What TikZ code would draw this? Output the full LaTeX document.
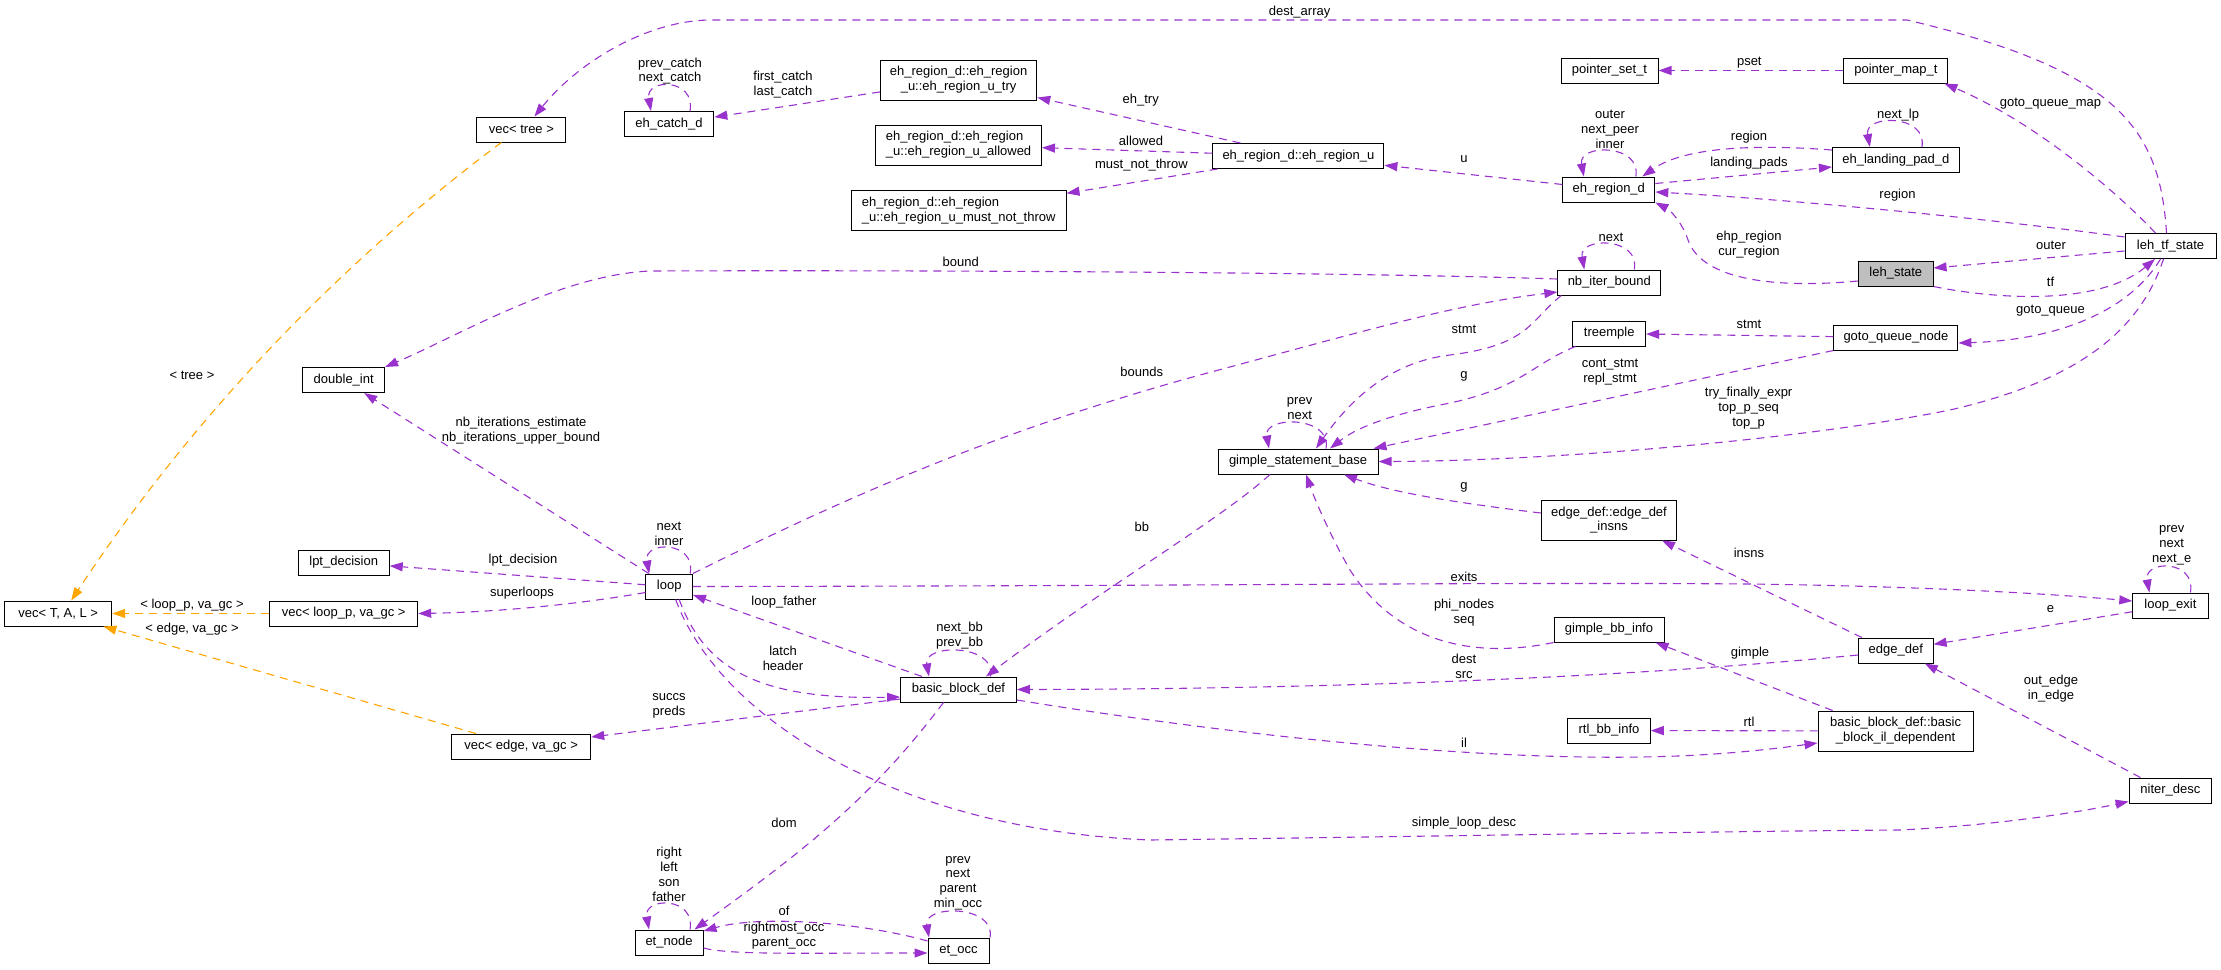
\documentclass[tikz,border=0pt]{standalone}
\usepackage{fontspec}
\setmainfont{Liberation Sans}
\usetikzlibrary{arrows.meta}
\definecolor{edgepurple}{HTML}{9A32CD}
\definecolor{tmplorange}{HTML}{FFA500}
\definecolor{lehgray}{HTML}{BFBFBF}

\begin{document}
\begin{tikzpicture}[x=1pt,y=-1pt]
			\useasboundingbox (0,0) rectangle (2221,969);
			
			\tikzstyle{mybox}=[rectangle,
			draw=black,
			fill=white,
			line width=1pt,
			minimum height=25pt,
			inner xsep=4pt,
			inner ysep=2pt,
			align=center,
			font=\fontsize{13}{14.8}\selectfont
			]
			\tikzstyle{mylabel}=[align=center, inner sep=1pt, font=\fontsize{13}{14.8}\selectfont]
			\tikzstyle{myarrow}=[-{Triangle[length=13pt,width=9pt]}, draw=edgepurple, line width=1.1pt, dash pattern=on 8pt off 6pt]
			\tikzstyle{myorange}=[myarrow, draw=tmplorange]
			
			\coordinate (pvectree) at (521.4,129.5);
			\coordinate (pdoubleint) at (343.7,380);
			\coordinate (pvectal) at (58.2,613.5);
			\coordinate (plptdec) at (343.7,562.5);
			\coordinate (pvecloop) at (343.7,613.5);
			\coordinate (pvecedge) at (521.2,746.5);
			
			\coordinate (pehcatch) at (669,124);
			\coordinate (ploop) at (669.2,586.5);
			\coordinate (petnode) at (669,942.5);
			
			\coordinate (pehtry) at (958.6,80);
			\coordinate (pehallowed) at (958.6,145);
			\coordinate (pehmnt) at (958.7,210.5);
			\coordinate (pbbdef) at (958.5,689.5);
			\coordinate (petocc) at (958.5,950.5);
			
			\coordinate (pehregu) at (1298.4,156);
			\coordinate (pgimplesb) at (1298,461.5);
			
			\coordinate (ppointerset) at (1609.5,70.5);
			\coordinate (pehregion) at (1608.8,189.5);
			\coordinate (pnbiter) at (1609.3,282.5);
			\coordinate (ptreemple) at (1609.2,333.5);
			\coordinate (pedgeinsns) at (1609,520);
			\coordinate (pgimplebb) at (1609,629.5);
			\coordinate (prtlbb) at (1609,730.5);
			
			\coordinate (ppointermap) at (1895.9,70.5);
			\coordinate (plandpad) at (1895.9,160);
			\coordinate (plehstate) at (1895.8,273.5);
			\coordinate (pgotoqn) at (1895.9,337.5);
			\coordinate (pedgedef) at (1895.8,650.5);
			\coordinate (pbbil) at (1895.6,731);
			
			\coordinate (plehtf) at (2170.5,246);
			\coordinate (ploopexit) at (2170.4,605.5);
			\coordinate (pniterdesc) at (2170.4,790.5);
			
			
			\node[mybox, minimum width=89pt] (vectree) at (pvectree) {vec< tree >};
			\node[mybox, minimum width=81.7pt] (doubleint) at (pdoubleint) {double\_int};
			\node[mybox, minimum width=107pt] (vectal) at (pvectal) {vec< T, A, L >};
			\node[mybox, minimum width=91pt] (lptdec) at (plptdec) {lpt\_decision};
			\node[mybox, minimum width=148pt] (vecloop) at (pvecloop) {vec< loop\_p, va\_gc >};
			\node[mybox, minimum width=139pt] (vecedge) at (pvecedge) {vec< edge, va\_gc >};
			
			\node[mybox, minimum width=89.6pt] (ehcatch) at (pehcatch) {eh\_catch\_d};
			\node[mybox, minimum width=46.5pt] (loop) at (ploop) {loop};
			\node[mybox, minimum width=68pt] (etnode) at (petnode) {et\_node};
			
			\node[mybox, minimum width=156.4pt, minimum height=40pt] (ehtry) at (pehtry) {eh\_region\_d::eh\_region\\\_u::eh\_region\_u\_try};
			\node[mybox, minimum width=165.7pt, minimum height=40pt, align=left] (ehallowed) at (pehallowed) {eh\_region\_d::eh\_region\\\_u::eh\_region\_u\_allowed};
			\node[mybox, minimum width=214.6pt, minimum height=40pt, align=left] (ehmnt) at (pehmnt) {eh\_region\_d::eh\_region\\\_u::eh\_region\_u\_must\_not\_throw};
			\node[mybox, minimum width=115.7pt] (bbdef) at (pbbdef) {basic\_block\_def};
			\node[mybox, minimum width=61pt] (etocc) at (petocc) {et\_occ};
			
			\node[mybox, minimum width=171pt] (ehregu) at (pehregu) {eh\_region\_d::eh\_region\_u};
			\node[mybox, minimum width=160pt] (gimplesb) at (pgimplesb) {gimple\_statement\_base};
			
			\node[mybox, minimum width=97pt] (pointerset) at (ppointerset) {pointer\_set\_t};
			\node[mybox, minimum width=92pt] (ehregion) at (pehregion) {eh\_region\_d};
			\node[mybox, minimum width=103pt] (nbiter) at (pnbiter) {nb\_iter\_bound};
			\node[mybox, minimum width=72.7pt] (treemple) at (ptreemple) {treemple};
			\node[mybox, minimum width=135.6pt, minimum height=40pt] (edgeinsns) at (pedgeinsns) {edge\_def::edge\_def\\\_insns};
			\node[mybox, minimum width=110pt] (gimplebb) at (pgimplebb) {gimple\_bb\_info};
			\node[mybox, minimum width=82.5pt] (rtlbb) at (prtlbb) {rtl\_bb\_info};
			
			\node[mybox, minimum width=104pt] (pointermap) at (ppointermap) {pointer\_map\_t};
			\node[mybox, minimum width=127pt] (landpad) at (plandpad) {eh\_landing\_pad\_d};
			\node[mybox, minimum width=74.5pt, fill=lehgray] (lehstate) at (plehstate) {leh\_state};
			\node[mybox, minimum width=124pt] (gotoqn) at (pgotoqn) {goto\_queue\_node};
			\node[mybox, minimum width=74.5pt] (edgedef) at (pedgedef) {edge\_def};
			\node[mybox, minimum width=155pt, minimum height=40pt] (bbil) at (pbbil) {basic\_block\_def::basic\\\_block\_il\_dependent};
			
			\node[mybox, minimum width=91pt] (lehtf) at (plehtf) {leh\_tf\_state};
			\node[mybox, minimum width=75.2pt] (loopexit) at (ploopexit) {loop\_exit};
			\node[mybox, minimum width=82.6pt] (niterdesc) at (pniterdesc) {niter\_desc};
			
			% template instances
			\draw[myorange] ([xshift=-20pt]vectree.south) .. controls (370,240) and (210,390) .. ([xshift=13pt]vectal.north) node[mylabel] (ltree) at (192,375) {< tree >};
			\draw[myorange] (vecloop) -- (vectal) node[mylabel] (lvecloop) at (192,605) {< loop\_p, va\_gc >};
			\draw[myorange] (vecedge) -- (vectal) node[mylabel] (lvecedge) at (192,629) {< edge, va\_gc >};
			
			% leh_tf_state
			\draw[myarrow] ([xshift=-4pt]lehtf.north) .. controls (2160,130) and (2120,70) .. (1907,20) -- (711,20) .. controls (650,20) and (580,60) .. ([xshift=13pt]vectree.north) node[mylabel] (ldest) at (1299.6,12) {dest\_array};
			\draw[myarrow] ([xshift=-15pt]lehtf.north) .. controls (2110,185) and (2030,120) .. ([xshift=-4pt]pointermap.south east) node[mylabel] (lgqmap) at (2050.5,104) {goto\_queue\_map};
			\draw[myarrow] ([yshift=9pt]lehtf.west) .. controls (2000,220) and (1800,200) .. ([yshift=-2.5pt]ehregion.east) node[mylabel] (lregion) at (1897.5,195) {region};
			\draw[myarrow] ([yshift=-5pt]lehtf.west) -- ([yshift=5.5pt]lehstate.east) node[mylabel] (louter) at (2051,245) {outer};
			\draw[myarrow] (lehstate.south east) .. controls (2000,300) and (2100,305) .. ([xshift=-15.5pt]lehtf.south) node[mylabel] (ltf) at (2050.5,282) {tf};
			\draw[myarrow] ([xshift=-10pt]lehtf.south) .. controls (2130,310) and (2060,340) .. ([yshift=-5.5pt]gotoqn.east) node[mylabel] (lgq) at (2050.5,311) {goto\_queue};
			\draw[myarrow] ([xshift=-7pt]lehtf.south) .. controls (2140,330) and (2080,380) .. (1950,410) .. controls (1800,440) and (1550,461) .. (gimplesb.east) node[mylabel] (ltry) at (1748.6,408) {try\_finally\_expr\\top\_p\_seq\\top\_p};
			
			% exception regions
			\draw[myarrow] ([xshift=21pt]ehcatch.north) .. controls +(6,-33) and +(-6,-33) .. ([xshift=-18pt]ehcatch.north) node[mylabel] (lcatchself) at (670,71) {prev\_catch\\next\_catch};
			\draw[myarrow] (ehtry) -- (ehcatch) node[mylabel] (lcatch) at (783,84.5) {first\_catch\\last\_catch};
			\draw[myarrow] (ehregu) -- (ehtry) node[mylabel] (ltry2) at (1140.7,100) {eh\_try};
			\draw[myarrow] (ehregu) -- (ehallowed) node[mylabel] (lallowed) at (1141,141) {allowed};
			\draw[myarrow] (ehregu) -- (ehmnt) node[mylabel] (lmnt) at (1141.4,165) {must\_not\_throw};
			\draw[myarrow] (ehregion) -- (ehregu) node[mylabel] (lu) at (1464,159) {u};
			\draw[myarrow] ([xshift=27pt]ehregion.north) .. controls +(6,-33) and +(-6,-33) .. ([xshift=-25pt]ehregion.north) node[mylabel] (lregself) at (1610,129.5) {outer\\next\_peer\\inner};
			\draw[myarrow] (pointermap) -- (pointerset) node[mylabel] (lpset) at (1749.3,63) {pset};
			\draw[myarrow] ([xshift=26pt]landpad.north) .. controls +(6,-33) and +(-6,-33) .. ([xshift=-26pt]landpad.north) node[mylabel] (llpself) at (1898,115) {next\_lp};
			\draw[myarrow] ([yshift=10pt]landpad.west) .. controls (1740,143) and (1680,150) .. ([xshift=-13pt]ehregion.north east) node[mylabel] (lregion2) at (1749,137) {region};
			\draw[myarrow] ([yshift=6pt]ehregion.east) -- ([yshift=-7pt]landpad.west) node[mylabel] (lpads) at (1749,163) {landing\_pads};
			\draw[myarrow] ([yshift=-7.5pt]lehstate.west) .. controls (1760,290) and (1700,275) .. (1688,240) .. controls (1682,222) and (1670,210) .. (ehregion.south east) node[mylabel] (lehp) at (1749,244.5) {ehp\_region\\cur\_region};
			
			% statements
			\draw[myarrow] (gotoqn) -- (treemple) node[mylabel] (lstmt) at (1749,324) {stmt};
			\draw[myarrow] (gotoqn.south west) -- ([xshift=-5pt]gimplesb.north east) node[mylabel] (lcont) at (1610,372.5) {cont\_stmt\\repl\_stmt};
			\draw[myarrow] ([xshift=3pt]treemple.south west) .. controls (1530,365) and (1520,390) .. (1440,405) .. controls (1400,413) and (1360,425) .. ([xshift=32pt]gimplesb.north) node[mylabel] (lg) at (1464,376) {g};
			\draw[myarrow] ([xshift=4pt]nbiter.south west) .. controls (1530,320) and (1530,345) .. (1450,355) .. controls (1390,362) and (1350,400) .. ([xshift=18pt]gimplesb.north) node[mylabel] (lstmt2) at (1464,329) {stmt};
			\draw[myarrow] ([xshift=25pt]nbiter.north) .. controls +(6,-33) and +(-6,-33) .. ([xshift=-25pt]nbiter.north) node[mylabel] (lnbself) at (1611,237) {next};
			\draw[myarrow] ([xshift=28pt]gimplesb.north) .. controls +(6,-33) and +(-6,-33) .. ([xshift=-29pt]gimplesb.north) node[mylabel] (lgsself) at (1299.6,408.5) {prev\\next};
			\draw[myarrow] ([yshift=3.5pt]nbiter.west) .. controls (1350,272) and (900,270) .. (650,271) .. controls (560,275) and (460,335) .. (doubleint.north east) node[mylabel] (lbound) at (960.7,262) {bound};
			\draw[myarrow] ([yshift=7pt]edgeinsns.west) .. controls (1450,502) and (1390,492) .. ([xshift=46pt]gimplesb.south) node[mylabel] (lg2) at (1464,487) {g};
			\draw[myarrow] (gimplebb.south west) .. controls (1470,660) and (1395,640) .. (1350,570) .. controls (1330,535) and (1315,500) .. ([xshift=8pt]gimplesb.south) node[mylabel] (lphi) at (1464,612.5) {phi\_nodes\\seq};
			\draw[myarrow] ([xshift=-28pt]gimplesb.south) .. controls (1220,520) and (1100,590) .. ([xshift=27.5pt]bbdef.north) node[mylabel] (lbb) at (1141.8,527) {bb};
			
			% loops
			\draw[myarrow] (loop) -- (doubleint) node[mylabel] (lnbit) at (521,431) {nb\_iterations\_estimate\\nb\_iterations\_upper\_bound};
			\draw[myarrow] (loop.north east) .. controls (850,495) and (1000,430) .. (1200,375) .. controls (1350,335) and (1450,305) .. ([yshift=-9.5pt]nbiter.west) node[mylabel] (lbounds) at (1141.8,372) {bounds};
			\draw[myarrow] ([xshift=21pt]loop.north) .. controls +(6,-33) and +(-6,-33) .. ([xshift=-20pt]loop.north) node[mylabel] (lloopself) at (669,534) {next\\inner};
			\draw[myarrow] (loop) -- (lptdec) node[mylabel] (llpt) at (523,560) {lpt\_decision};
			\draw[myarrow] ([yshift=-6pt]loop.west) .. controls (580,604) and (500,612) .. (vecloop.east) node[mylabel] (lsuper) at (522,593) {superloops};
			\draw[myarrow] (loop.east) .. controls (1200,586) and (1500,582) .. (1750,584) .. controls (1900,586) and (2030,592) .. ([yshift=4.5pt]loopexit.west) node[mylabel] (lexits) at (1464,577) {exits};
			\draw[myarrow] (bbdef) -- (loop) node[mylabel] (lfather) at (784,602) {loop\_father};
			\draw[myarrow] ([xshift=10pt]loop.south) .. controls (705,670) and (760,700) .. ([yshift=-7.5pt]bbdef.west) node[mylabel] (llatch) at (783,658.5) {latch\\header};
			\draw[myarrow] ([xshift=6.5pt]loop.south) .. controls (720,720) and (900,830) .. (1150,840) .. controls (1450,836) and (1750,831) .. (1900,830) .. controls (2000,825) and (2080,812) .. ([yshift=-11pt]niterdesc.west) node[mylabel] (lsimple) at (1464,823) {simple\_loop\_desc};
			
			% basic blocks and edges
			\draw[myarrow] ([xshift=32pt]bbdef.north) .. controls +(6,-33) and +(-6,-33) .. ([xshift=-29.5pt]bbdef.north) node[mylabel] (lbbself) at (959.6,636) {next\_bb\\prev\_bb};
			\draw[myarrow] ([yshift=-9.5pt]bbdef.west) -- ([yshift=9.5pt]vecedge.east) node[mylabel] (lsuccs) at (669,705.5) {succs\\preds};
			\draw[myarrow] ([yshift=-4.5pt]edgedef.west) .. controls (1600,680) and (1300,689) .. (bbdef.east) node[mylabel] (ldest2) at (1464,666) {dest\\src};
			\draw[myarrow] ([yshift=-10.5pt]bbdef.east) .. controls (1200,730) and (1450,760) .. (1640,757) .. controls (1720,756) and (1780,748) .. ([yshift=-12pt]bbil.west) node[mylabel] (lil) at (1464,743) {il};
			\draw[myarrow] ([xshift=-63pt]bbil.north) -- ([xshift=-9pt]gimplebb.south east) node[mylabel] (lgimple) at (1750,653) {gimple};
			\draw[myarrow] (bbil) -- (rtlbb) node[mylabel] (lrtl) at (1749,722) {rtl};
			\draw[myarrow] ([xshift=-34pt]edgedef.north) -- ([xshift=53pt]edgeinsns.south) node[mylabel] (linsns) at (1749,553) {insns};
			\draw[myarrow] (loopexit) -- (edgedef) node[mylabel] (le) at (2050.5,609) {e};
			\draw[myarrow] ([xshift=-30pt]niterdesc.north) -- ([xshift=29pt]edgedef.south) node[mylabel] (lout) at (2051,688.5) {out\_edge\\in\_edge};
			\draw[myarrow] ([xshift=20pt]loopexit.north) .. controls +(6,-33) and +(-6,-33) .. ([xshift=-21pt]loopexit.north) node[mylabel] (lexself) at (2171.7,545) {prev\\next\\next\_e};
			
			% dominance tree
			\draw[myarrow] ([xshift=-15pt]bbdef.south) .. controls (870,800) and (801,853) .. ([xshift=-9pt]etnode.north east) node[mylabel] (ldom) at (784,823) {dom};
			\draw[myarrow] ([xshift=21pt]etnode.north) .. controls +(6,-33) and +(-6,-33) .. ([xshift=-20pt]etnode.north) node[mylabel] (lenself) at (669,874.5) {right\\left\\son\\father};
			\draw[myarrow] ([yshift=9.5pt]etocc.west) .. controls (860,922) and (760,915) .. ([yshift=11.5pt]etnode.east) node[mylabel] (lof) at (784,911) {of};
			\draw[myarrow] ([yshift=-5.5pt]etnode.east) .. controls (730,955) and (800,953) .. ([yshift=-2.5pt]etocc.west) node[mylabel] (lrocc) at (784,936) {rightmost\_occ\\parent\_occ};
			\draw[myarrow] ([xshift=31.5pt]etocc.north) .. controls +(6,-33) and +(-6,-33) .. ([xshift=-29.5pt]etocc.north) node[mylabel] (leoself) at (958,883) {prev\\next\\parent\\min\_occ};
			
\end{tikzpicture}
\end{document}
